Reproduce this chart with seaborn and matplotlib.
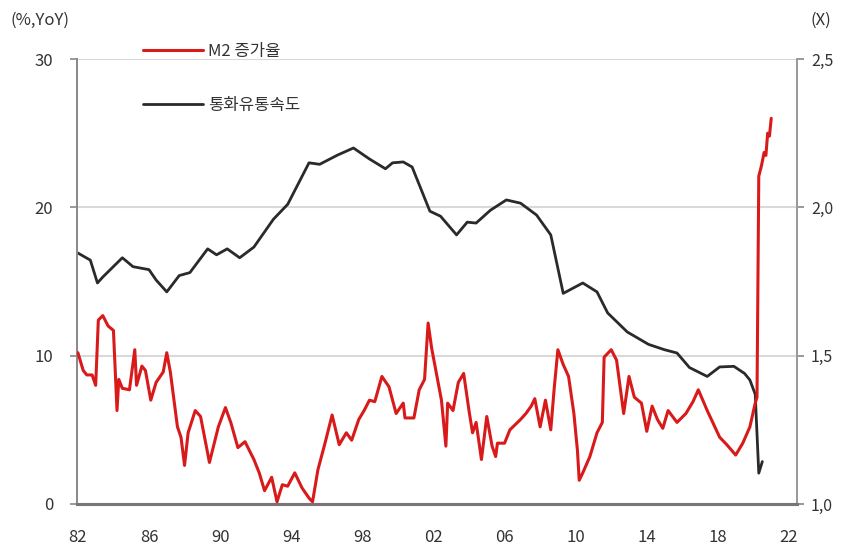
import matplotlib
matplotlib.use("Agg")
import matplotlib.pyplot as plt
import seaborn as sns
import pandas as pd
from matplotlib.lines import Line2D
from matplotlib.ticker import FixedLocator

# ---- data ----
m2_years = [1982.0, 1982.3, 1982.5, 1982.8, 1983.0, 1983.15, 1983.4, 1983.7, 1984.0, 1984.2,
            1984.3, 1984.5, 1984.9, 1985.2, 1985.3, 1985.6, 1985.8, 1986.1, 1986.4, 1986.8,
            1987.0, 1987.2, 1987.6, 1987.8, 1988.0, 1988.2, 1988.6, 1988.9, 1989.4, 1989.9,
            1990.3, 1990.6, 1991.0, 1991.4, 1991.9, 1992.2, 1992.5, 1992.9, 1993.2, 1993.5,
            1993.8, 1994.2, 1994.6, 1995.0, 1995.2, 1995.5, 1995.9, 1996.3, 1996.7, 1997.1,
            1997.4, 1997.8, 1998.1, 1998.4, 1998.7, 1999.1, 1999.5, 1999.9, 2000.3, 2000.4,
            2000.9, 2001.2, 2001.5, 2001.7, 2001.9, 2002.2, 2002.45, 2002.7, 2002.8, 2003.1,
            2003.4, 2003.7, 2004.0, 2004.2, 2004.4, 2004.7, 2005.0, 2005.3, 2005.5, 2005.6,
            2006.0, 2006.3, 2006.9, 2007.2, 2007.5, 2007.7, 2008.0, 2008.3, 2008.6, 2008.8,
            2009.0, 2009.3, 2009.6, 2009.9, 2010.1, 2010.2, 2010.4, 2010.8, 2011.2, 2011.5,
            2011.6, 2012.0, 2012.3, 2012.6, 2012.7, 2013.0, 2013.3, 2013.7, 2014.0, 2014.3,
            2014.6, 2014.9, 2015.2, 2015.7, 2016.2, 2016.6, 2016.9, 2017.4, 2018.1, 2018.5,
            2019.0, 2019.4, 2019.8, 2020.1, 2020.2, 2020.3, 2020.45, 2020.6, 2020.7, 2020.8,
            2020.9, 2021.0]
m2_growth = [10.2, 9.0, 8.7, 8.7, 8.0, 12.4, 12.7, 12.0, 11.7, 6.3,
             8.4, 7.8, 7.7, 10.4, 8.0, 9.3, 9.0, 7.0, 8.2, 8.9,
             10.2, 8.9, 5.2, 4.5, 2.6, 4.8, 6.3, 5.9, 2.8, 5.2,
             6.5, 5.5, 3.8, 4.2, 3.0, 2.1, 0.9, 1.8, 0.15, 1.3,
             1.2, 2.1, 1.1, 0.4, 0.15, 2.3, 4.1, 6.0, 4.0, 4.8,
             4.3, 5.7, 6.3, 7.0, 6.9, 8.6, 7.9, 6.1, 6.8, 5.8,
             5.8, 7.7, 8.4, 12.2, 10.5, 8.6, 7.0, 3.9, 6.8, 6.3,
             8.2, 8.8, 6.3, 4.8, 5.5, 3.0, 5.9, 3.9, 3.2, 4.1,
             4.1, 5.0, 5.7, 6.1, 6.6, 7.1, 5.2, 7.0, 5.0, 7.9,
             10.4, 9.4, 8.6, 6.1, 3.6, 1.6, 2.1, 3.2, 4.8, 5.5,
             9.9, 10.4, 9.7, 7.0, 6.1, 8.6, 7.2, 6.8, 4.9, 6.6,
             5.7, 5.1, 6.3, 5.5, 6.1, 6.9, 7.7, 6.3, 4.5, 4.0,
             3.3, 4.1, 5.2, 6.8, 7.2, 22.1, 22.8, 23.7, 23.5, 25.0,
             24.8, 26.0]

vel_years = [1982.0, 1982.7, 1983.1, 1983.4, 1984.5, 1985.1, 1986.0, 1986.4, 1987.0, 1987.7,
             1988.3, 1989.3, 1989.8, 1990.4, 1991.1, 1991.9, 1993.0, 1993.8, 1995.0, 1995.6,
             1996.6, 1997.5, 1998.4, 1999.3, 1999.7, 2000.3, 2000.8, 2001.8, 2002.4, 2003.3,
             2003.9, 2004.4, 2005.2, 2006.1, 2006.9, 2007.8, 2008.6, 2009.3, 2010.4, 2011.2,
             2011.8, 2012.9, 2014.1, 2015.0, 2015.7, 2016.4, 2017.4, 2018.1, 2018.9, 2019.5,
             2019.8, 2020.1, 2020.3, 2020.5]
velocity = [1.846, 1.822, 1.745, 1.765, 1.83, 1.80, 1.79, 1.755, 1.715, 1.77,
            1.78, 1.86, 1.84, 1.86, 1.83, 1.866, 1.96, 2.01, 2.15, 2.145,
            2.176, 2.20, 2.163, 2.13, 2.15, 2.153, 2.136, 1.987, 1.97, 1.907,
            1.95, 1.947, 1.99, 2.025, 2.014, 1.974, 1.907, 1.71, 1.745, 1.715,
            1.644, 1.58, 1.538, 1.52, 1.509, 1.46, 1.43, 1.462, 1.464, 1.44,
            1.418, 1.37, 1.104, 1.143]

x_ticks = [1982, 1986, 1990, 1994, 1998, 2002, 2006, 2010, 2014, 2018, 2022]
x_tick_labels = ["82", "86", "90", "94", "98", "02", "06", "10", "14", "18", "22"]
left_ticks = [0, 10, 20, 30]
left_tick_labels = ["0", "10", "20", "30"]
right_ticks = [1.0, 1.5, 2.0, 2.5]
right_tick_labels = ["1,0", "1,5", "2,0", "2,5"]
series_names = ["M2 증가율", "통화유통속도"]
left_unit = "(%,YoY)"
right_unit = "(X)"

# ---- style ----
sns.set_style("white")
plt.rcParams["font.family"] = ["Noto Sans CJK KR", "DejaVu Sans"]

RED = "#d91a1a"
BLACK = "#2a2a2a"
TXT = "#333333"

fig = plt.figure(figsize=(8.41, 5.48), dpi=100)
ax = fig.add_axes([77 / 841, 1 - 504 / 548, (797 - 77) / 841, (504 - 59) / 548])
ax2 = ax.twinx()

df_m2 = pd.DataFrame({"year": m2_years, "value": m2_growth})
df_v = pd.DataFrame({"year": vel_years, "value": velocity})

sns.lineplot(data=df_m2, x="year", y="value", ax=ax, color=RED, linewidth=2.2,
             estimator=None, sort=False, zorder=3)
sns.lineplot(data=df_v, x="year", y="value", ax=ax2, color=BLACK, linewidth=2.0,
             estimator=None, sort=False, zorder=2)

ax.set_zorder(ax2.get_zorder() + 1)
ax.patch.set_visible(False)

ax.set_xlim(1981.95, 2022.45)
ax.set_ylim(0, 30)
ax2.set_ylim(1.0, 2.5)

ax.xaxis.set_major_locator(FixedLocator(x_ticks))
ax.set_xticklabels(x_tick_labels)
ax.yaxis.set_major_locator(FixedLocator(left_ticks))
ax.set_yticklabels(left_tick_labels)
ax2.yaxis.set_major_locator(FixedLocator(right_ticks))
ax2.set_yticklabels(right_tick_labels)

ax.set_xlabel("")
ax.set_ylabel("")
ax2.set_ylabel("")

for y in [10, 20, 30]:
    ax2.axhline(1.0 + y / 20.0, color="#d9d9d9", linewidth=1.5, zorder=0)

ax.tick_params(axis="x", direction="out", length=6, width=1.3, color="#777777",
               pad=12, labelsize=12, labelcolor=TXT)
ax.tick_params(axis="y", direction="out", length=5, width=1.2, color="#888888",
               pad=12, labelsize=12, labelcolor=TXT)
ax2.tick_params(axis="y", direction="out", length=5, width=1.2, color="#888888",
                pad=5, labelsize=11.5, labelcolor=TXT)

for a in (ax, ax2):
    a.spines["top"].set_visible(False)
    a.spines["left"].set_color("#8a8a8a")
    a.spines["left"].set_linewidth(1.3)
    a.spines["right"].set_color("#9a9a9a")
    a.spines["right"].set_linewidth(1.3)
    a.spines["bottom"].set_color("#777777")
    a.spines["bottom"].set_linewidth(2.2)

fig.text(10 / 841, 1 - 20 / 548, left_unit, fontsize=12, color=TXT, va="center", ha="left")
fig.text(810 / 841, 1 - 20 / 548, right_unit, fontsize=12, color=TXT, va="center", ha="left")

handles = [Line2D([0], [0], color=RED, linewidth=2.2),
           Line2D([0], [0], color=BLACK, linewidth=2.0)]
fig.legend(handles, series_names, loc="upper left",
           bbox_to_anchor=(128 / 841, 1 - 28 / 548), frameon=False,
           fontsize=12, handlelength=3.6, handletextpad=0.3, labelspacing=2.2,
           labelcolor=TXT)

fig.savefig("out.png", dpi=100)
